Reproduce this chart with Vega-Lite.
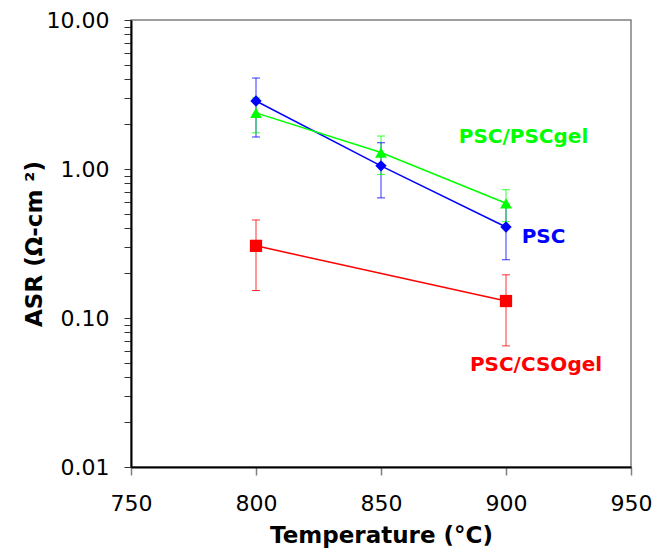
{
  "$schema": "https://vega.github.io/schema/vega-lite/v6.json",
  "width": 500,
  "height": 447,
  "autosize": {"type": "none"},
  "padding": {"left": 131, "top": 20, "right": 24, "bottom": 82},
  "background": "white",
  "config": {
    "view": {"stroke": "#808080", "strokeWidth": 1.5},
    "font": "DejaVu Sans"
  },
  "datasets": {
    "points": [
      {"series": "PSC", "temperature": 800, "asr": 2.86, "lo": 1.64, "hi": 4.08},
      {"series": "PSC", "temperature": 850, "asr": 1.05, "lo": 0.64, "hi": 1.5},
      {"series": "PSC", "temperature": 900, "asr": 0.408, "lo": 0.246, "hi": 0.57},
      {"series": "PSC/PSCgel", "temperature": 800, "asr": 2.38, "lo": 1.75, "hi": 3.0},
      {"series": "PSC/PSCgel", "temperature": 850, "asr": 1.29, "lo": 0.92, "hi": 1.665},
      {"series": "PSC/PSCgel", "temperature": 900, "asr": 0.589, "lo": 0.443, "hi": 0.726},
      {"series": "PSC/CSOgel", "temperature": 800, "asr": 0.305, "lo": 0.153, "hi": 0.455},
      {"series": "PSC/CSOgel", "temperature": 900, "asr": 0.13, "lo": 0.065, "hi": 0.195}
    ],
    "labels": [
      {"series": "PSC/PSCgel", "temperature": 907, "asr": 1.64},
      {"series": "PSC", "temperature": 915, "asr": 0.35},
      {"series": "PSC/CSOgel", "temperature": 912, "asr": 0.0485}
    ]
  },
  "layer": [
    {
      "data": {"name": "points"},
      "mark": {"type": "line", "strokeWidth": 1.5},
      "encoding": {
        "x": {
          "field": "temperature", "type": "quantitative",
          "scale": {"domain": [750, 950], "nice": false, "zero": false},
          "axis": {
            "title": "Temperature (°C)",
            "values": [750, 800, 850, 900, 950],
            "format": "d",
            "grid": false,
            "domainColor": "black", "domainWidth": 2,
            "tickColor": "#808080", "tickSize": 8, "tickWidth": 1.5,
            "labelFontSize": 22, "labelColor": "black", "labelPadding": 18,
            "labelFlush": false, "labelFont": "DejaVu Sans",
            "titleFontSize": 23, "titleFontWeight": "bold", "titleColor": "black",
            "titlePadding": 10, "titleFont": "DejaVu Sans"
          }
        },
        "y": {
          "field": "asr", "type": "quantitative",
          "scale": {"type": "log", "domain": [0.01, 10], "nice": false},
          "axis": {
            "title": "ASR (Ω-cm ²)",
            "values": [0.01, 0.02, 0.03, 0.04, 0.05, 0.06, 0.07, 0.08, 0.09, 0.1, 0.2, 0.3, 0.4, 0.5, 0.6, 0.7, 0.8, 0.9, 1, 2, 3, 4, 5, 6, 7, 8, 9, 10],
            "format": ".2f",
            "labelExpr": "(datum.value == 0.01 || datum.value == 0.1 || datum.value == 1 || datum.value == 10) ? datum.label : ''",
            "labelOverlap": false,
            "grid": false,
            "domainColor": "black", "domainWidth": 2,
            "tickColor": "#333333", "tickSize": 7, "tickWidth": 1,
            "labelFontSize": 22, "labelColor": "black", "labelPadding": 15,
            "labelFlush": false, "labelFont": "DejaVu Sans",
            "titleFontSize": 23, "titleFontWeight": "bold", "titleColor": "black",
            "titlePadding": 0, "titleFont": "DejaVu Sans"
          }
        },
        "color": {
          "field": "series", "type": "nominal",
          "scale": {"domain": ["PSC", "PSC/PSCgel", "PSC/CSOgel"], "range": ["#0000FF", "#00FF00", "#FF0000"]},
          "legend": null
        }
      }
    },
    {
      "data": {"name": "points"},
      "mark": {"type": "rule", "strokeWidth": 1, "opacity": 0.8},
      "encoding": {
        "x": {"field": "temperature", "type": "quantitative"},
        "y": {"field": "lo", "type": "quantitative"},
        "y2": {"field": "hi"},
        "color": {"field": "series", "type": "nominal", "legend": null}
      }
    },
    {
      "data": {"name": "points"},
      "mark": {"type": "tick", "orient": "horizontal", "size": 8, "thickness": 1, "opacity": 0.8},
      "encoding": {
        "x": {"field": "temperature", "type": "quantitative"},
        "y": {"field": "lo", "type": "quantitative"},
        "color": {"field": "series", "type": "nominal", "legend": null}
      }
    },
    {
      "data": {"name": "points"},
      "mark": {"type": "tick", "orient": "horizontal", "size": 8, "thickness": 1, "opacity": 0.8},
      "encoding": {
        "x": {"field": "temperature", "type": "quantitative"},
        "y": {"field": "hi", "type": "quantitative"},
        "color": {"field": "series", "type": "nominal", "legend": null}
      }
    },
    {
      "data": {"name": "points"},
      "mark": {"type": "point", "filled": true, "opacity": 1, "strokeWidth": 0},
      "encoding": {
        "x": {"field": "temperature", "type": "quantitative"},
        "y": {"field": "asr", "type": "quantitative"},
        "color": {"field": "series", "type": "nominal", "legend": null},
        "shape": {
          "field": "series", "type": "nominal",
          "scale": {"domain": ["PSC", "PSC/PSCgel", "PSC/CSOgel"], "range": ["diamond", "triangle-up", "square"]},
          "legend": null
        },
        "size": {
          "field": "series", "type": "nominal",
          "scale": {"domain": ["PSC", "PSC/PSCgel", "PSC/CSOgel"], "range": [130, 150, 121]},
          "legend": null
        }
      }
    },
    {
      "data": {"name": "labels"},
      "mark": {"type": "text", "fontSize": 20, "fontWeight": "bold", "font": "DejaVu Sans", "align": "center", "baseline": "middle"},
      "encoding": {
        "x": {"field": "temperature", "type": "quantitative"},
        "y": {"field": "asr", "type": "quantitative"},
        "text": {"field": "series"},
        "color": {"field": "series", "type": "nominal", "legend": null}
      }
    }
  ]
}
